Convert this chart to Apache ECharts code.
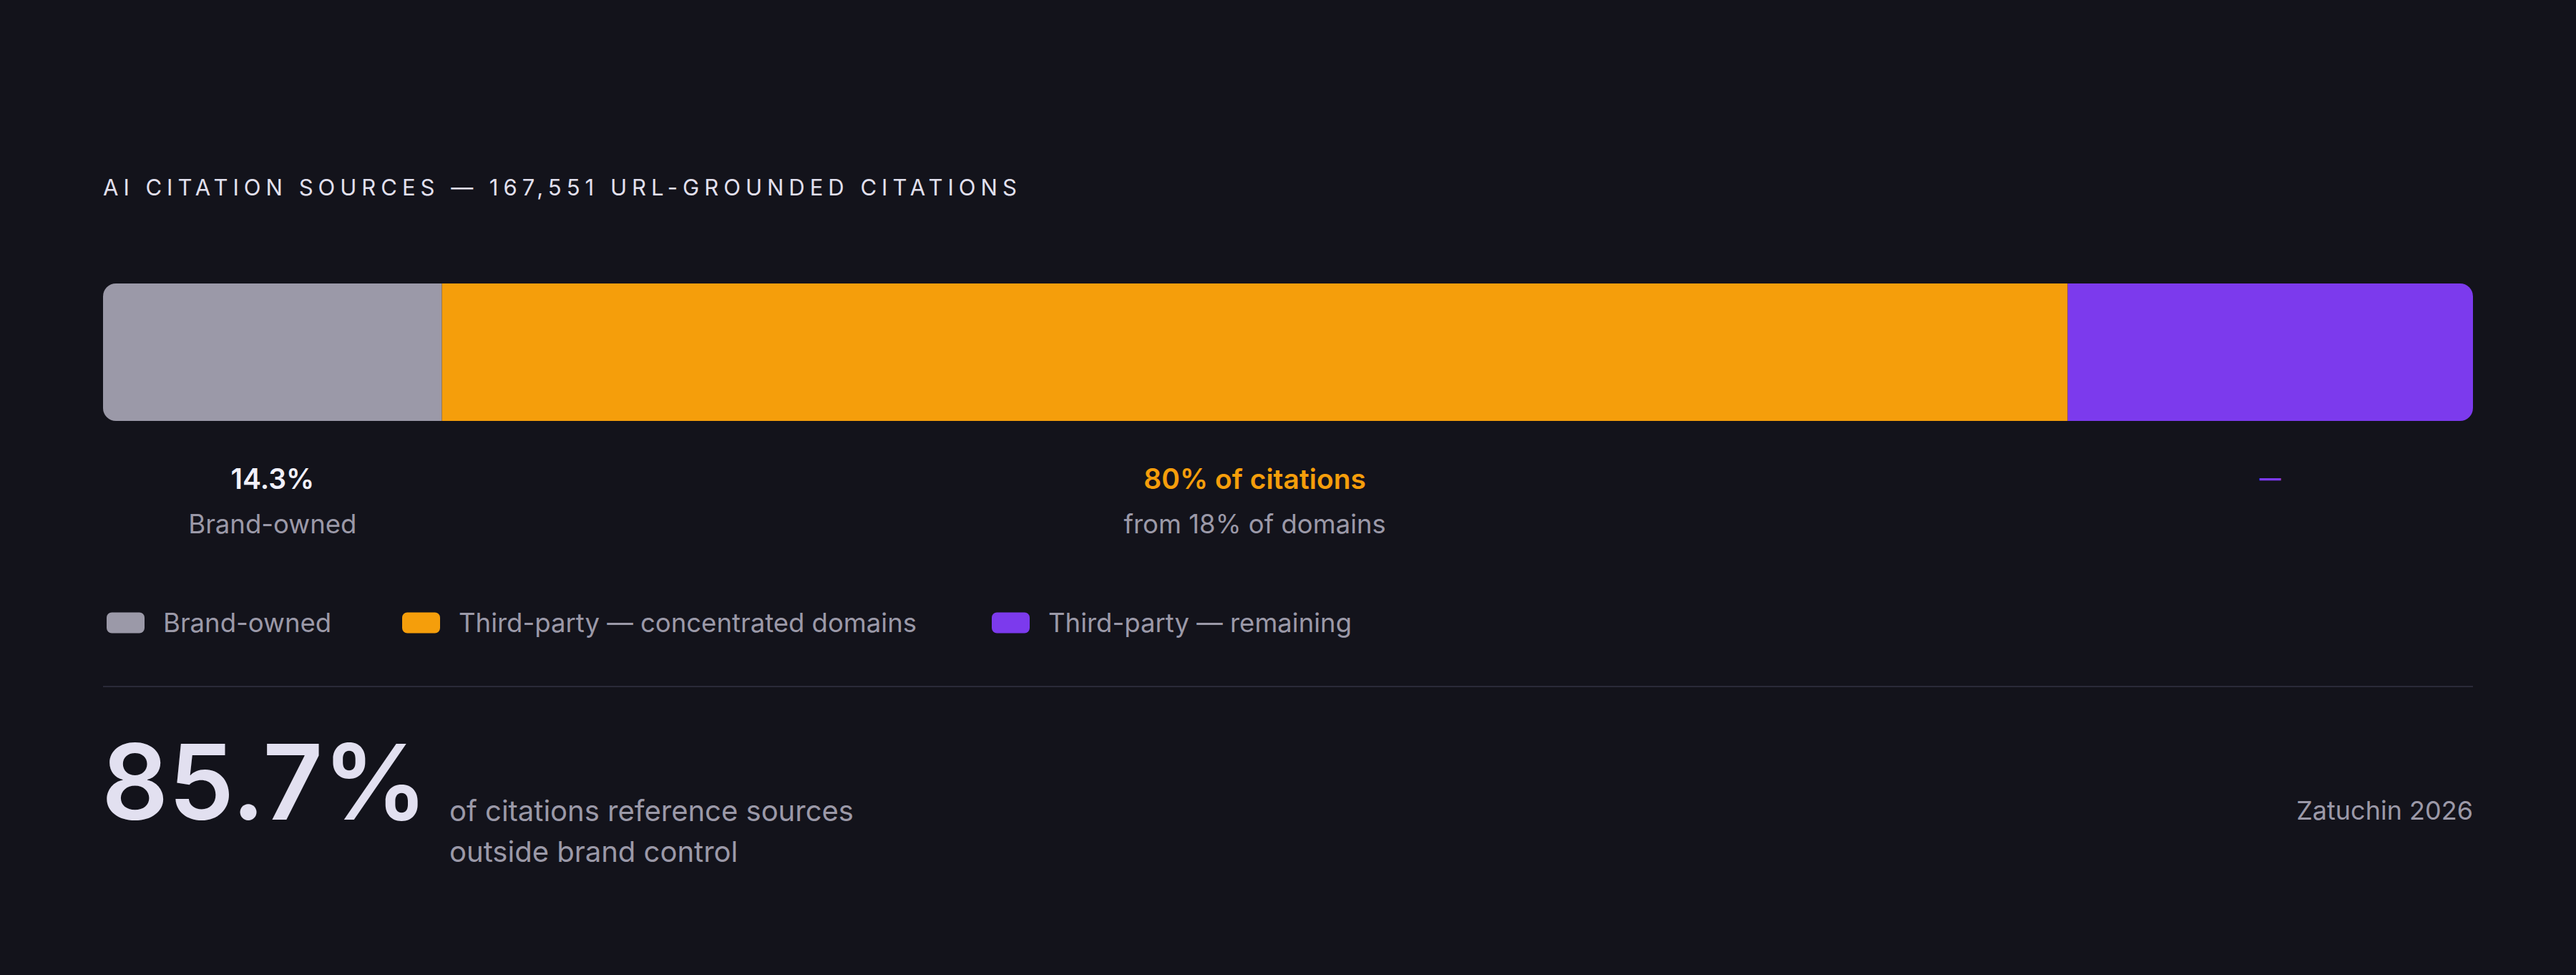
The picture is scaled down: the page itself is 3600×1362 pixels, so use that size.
<!DOCTYPE html>
<html>
<head>
<meta charset="utf-8">
<title>AI citation sources</title>
<script src="https://cdn.jsdelivr.net/npm/echarts@6/dist/echarts.min.js"></script>
<style>
  html, body { margin: 0; padding: 0; background: #13131b; }
  #chart { width: 3600px; height: 1362px; }
</style>
</head>
<body>
<div id="chart"></div>
<script>
// data
var segments = ['Brand-owned', 'Third-party — concentrated domains', 'Third-party — remaining'];
var shares = [14.3, 68.6, 17.1];
var headLabels = ['14.3%', '80% of citations', '—'];
var subLabels = ['Brand-owned', 'from 18% of domains', ''];
var totalCitations = '167,551';

var palette = ['#9b99a8', '#f59e0b', '#7c3aed'];
var headColors = ['#f1f0fa', '#f59e0b', '#7c3aed'];
var font = 'Inter, "DejaVu Sans", sans-serif';

var chart = echarts.init(document.getElementById('chart'), null, { renderer: 'svg' });

var outside = (100 - shares[0]).toFixed(1) + '%';
var legendLeft = [149, 562, 1386];

var series = segments.map(function (name, i) {
  var r = 18;
  var radius = i === 0 ? [r, 0, 0, r] : (i === segments.length - 1 ? [0, r, r, 0] : 0);
  return {
    name: name,
    type: 'bar',
    stack: 'all',
    barWidth: '100%',
    data: [shares[i]],
    itemStyle: { color: palette[i], borderRadius: radius },
    label: {
      show: true,
      position: ['50%', 240],
      align: 'center',
      verticalAlign: 'top',
      formatter: function () {
        if (!subLabels[i]) return '{d|' + headLabels[i] + '}';
        return '{h|' + headLabels[i] + '}\n{s|' + subLabels[i] + '}';
      },
      rich: {
        h: { fontFamily: font, fontSize: 39, fontWeight: 600, color: headColors[i], lineHeight: 64 },
        d: { fontFamily: font, fontSize: 30, fontWeight: 600, color: headColors[i], lineHeight: 64 },
        s: { fontFamily: font, fontSize: 36.5, fontWeight: 400, color: '#9b99a8', lineHeight: 64 }
      }
    },
    emphasis: { disabled: true }
  };
});

var legends = segments.map(function (name, i) {
  return {
    data: [name],
    left: legendLeft[i],
    top: 850,
    padding: 0,
    itemWidth: 53,
    itemHeight: 29,
    icon: 'roundRect',
    selectedMode: false,
    textStyle: { fontFamily: font, fontSize: 36.5, color: '#9b99a8', lineHeight: 40, padding: [0, 0, 0, 21] }
  };
});

chart.setOption({
  animation: false,
  backgroundColor: '#13131b',
  grid: { left: 144, right: 144, top: 396, height: 192 },
  xAxis: { type: 'value', min: 0, max: 100, show: false },
  yAxis: { type: 'category', data: ['citations'], show: false },
  legend: legends,
  series: series,
  graphic: [
    {
      type: 'text', left: 144, top: 246,
      style: { text: 'AI CITATION SOURCES — ' + totalCitations + ' URL-GROUNDED CITATIONS', fontFamily: font, fontSize: 31, fill: '#e2e0ee' }
    },
    {
      type: 'line', shape: { x1: 144, y1: 959, x2: 3456, y2: 959 },
      style: { stroke: '#2a2a38', lineWidth: 2 }
    },
    {
      type: 'text', x: 142, y: 1092,
      style: { text: outside, fontFamily: font, fontSize: 146, fontWeight: 600, fill: '#e2e0f0', verticalAlign: 'middle', align: 'left' }
    },
    {
      type: 'text', x: 628, y: 1132,
      style: { text: 'of citations reference sources', fontFamily: font, fontSize: 40, fill: '#9b99a8', verticalAlign: 'middle' }
    },
    {
      type: 'text', x: 628, y: 1189,
      style: { text: 'outside brand control', fontFamily: font, fontSize: 40, fill: '#9b99a8', verticalAlign: 'middle' }
    },
    {
      type: 'text', x: 3456, y: 1132,
      style: { text: 'Zatuchin 2026', fontFamily: font, fontSize: 36, fill: '#9b99a8', verticalAlign: 'middle', align: 'right' }
    }
  ]
});

// widen the title tracking (zrender has no letterSpacing option)
var texts = document.querySelectorAll('#chart text');
for (var t = 0; t < texts.length; t++) {
  if (texts[t].textContent.indexOf('AI CITATION') === 0) {
    texts[t].setAttribute('letter-spacing', '7');
  }
}
</script>
</body>
</html>
